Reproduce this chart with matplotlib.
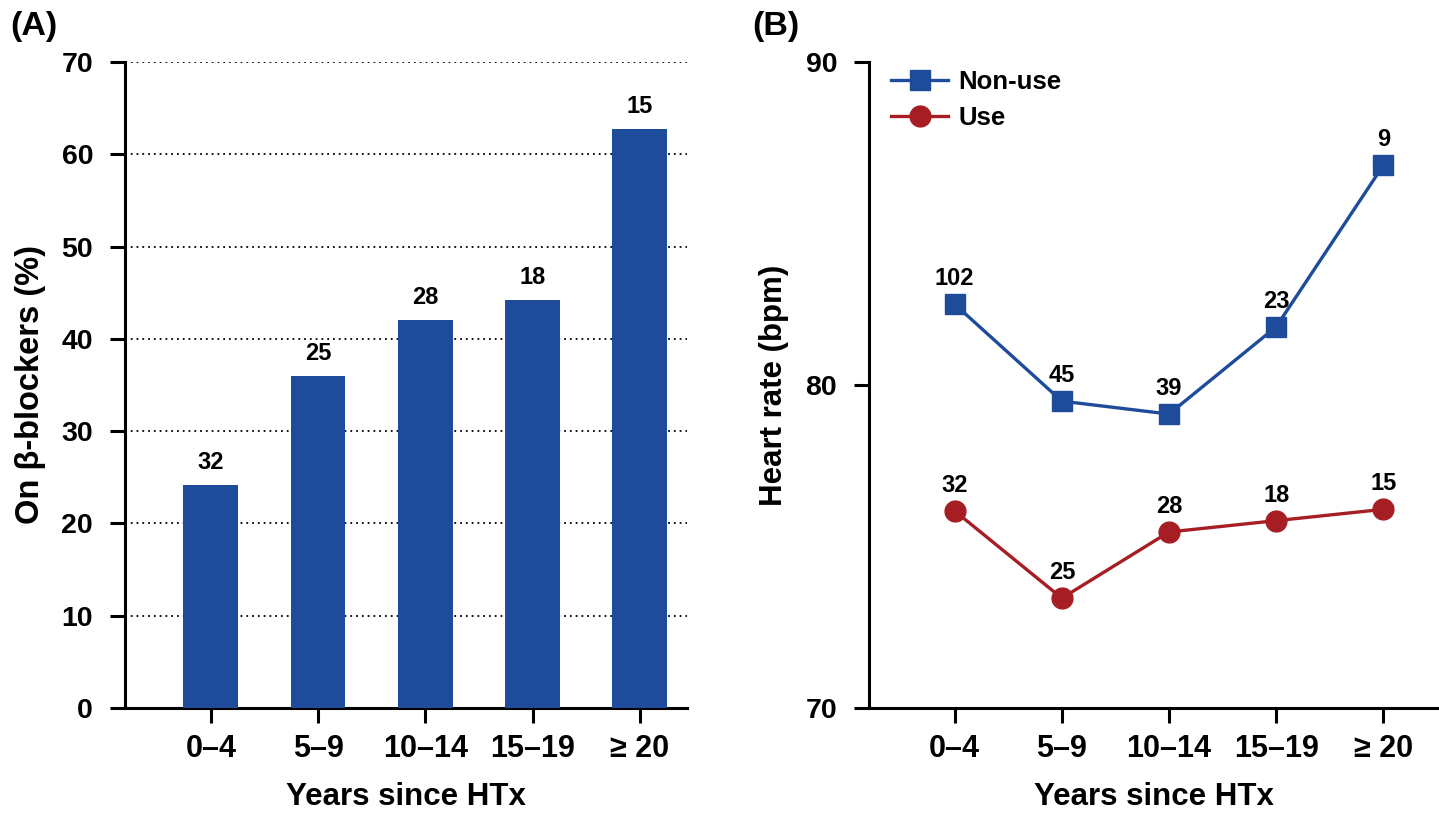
import matplotlib
matplotlib.use("Agg")
import matplotlib.pyplot as plt
import numpy as np

categories = ["0\u20134", "5\u20139", "10\u201314", "15\u201319", "\u2265 20"]
bb_pct = [24.2, 36.0, 42.0, 44.2, 62.7]
bb_n = ["32", "25", "28", "18", "15"]
hr_nonuse = [82.5, 79.5, 79.1, 81.8, 86.8]
hr_nonuse_n = ["102", "45", "39", "23", "9"]
hr_use = [76.1, 73.4, 75.45, 75.8, 76.15]
hr_use_n = ["32", "25", "28", "18", "15"]

BLUE = "#1F4B9B"
RED = "#A61E24"

plt.rcParams['font.family'] = ['Liberation Sans', 'DejaVu Sans']
plt.rcParams['font.weight'] = 'bold'

W, H = 1439, 813
fig = plt.figure(figsize=(W/100, H/100), dpi=100)

def ax_rect(l, r, t, b):
    return [l/W, 1 - b/H, (r-l)/W, (b-t)/H]

def style(ax):
    for s in ["top", "right"]:
        ax.spines[s].set_visible(False)
    for s in ["left", "bottom"]:
        ax.spines[s].set_linewidth(2.2)
    ax.tick_params(axis="both", width=2.2, length=11)
    ax.tick_params(axis="y", labelsize=20.5, pad=12)
    ax.tick_params(axis="x", labelsize=22, pad=8)
    for lab in ax.get_xticklabels() + ax.get_yticklabels():
        lab.set_fontweight("bold")

x = np.arange(len(categories))
ANN = 17
LAB = 22.5

# Panel A
axA = fig.add_axes(ax_rect(125, 687, 62, 708))
axA.bar(x, bb_pct, width=0.51, color=BLUE, zorder=3)
axA.set_xlim(-0.80, 4.44)
axA.set_ylim(0, 70)
axA.set_yticks(np.arange(0, 71, 10))
axA.set_xticks(x)
axA.set_xticklabels(categories)
axA.yaxis.grid(True, linestyle=(0, (1, 2.2)), color="black", linewidth=1.3, zorder=1)
axA.set_axisbelow(True)
style(axA)
for xi, v, n in zip(x, bb_pct, bb_n):
    axA.annotate(n, (xi, v), xytext=(0, 8), textcoords="offset points",
                 ha="center", va="bottom", fontsize=ANN, fontweight="bold")
axA.set_xlabel("Years since HTx", fontsize=LAB, fontweight="bold", labelpad=13)
axA.set_ylabel("On \u03b2-blockers (%)", fontsize=23.5, fontweight="bold", labelpad=11)
fig.text(10/W, 1 - 26/H, "(A)", fontsize=24.5, fontweight="bold", va="center", ha="left")

# Panel B
axB = fig.add_axes(ax_rect(869, 1439, 62, 708))
axB.plot(x, hr_nonuse, color=BLUE, linewidth=2.4, marker="s", markersize=14,
         label="Non-use", zorder=3)
axB.plot(x, hr_use, color=RED, linewidth=2.4, marker="o", markersize=15,
         label="Use", zorder=3)
axB.set_xlim(-0.80, 4.52)
axB.set_ylim(70, 90)
axB.set_yticks([70, 80, 90])
axB.set_xticks(x)
axB.set_xticklabels(categories)
style(axB)
for xi, v, n in zip(x, hr_nonuse, hr_nonuse_n):
    axB.annotate(n, (xi, v), xytext=(0, 10), textcoords="offset points",
                 ha="center", va="bottom", fontsize=ANN, fontweight="bold")
for xi, v, n in zip(x, hr_use, hr_use_n):
    axB.annotate(n, (xi, v), xytext=(0, 10), textcoords="offset points",
                 ha="center", va="bottom", fontsize=ANN, fontweight="bold")
axB.set_xlabel("Years since HTx", fontsize=LAB, fontweight="bold", labelpad=13)
axB.set_ylabel("Heart rate (bpm)", fontsize=LAB, fontweight="bold", labelpad=12)
leg = axB.legend(loc="upper left", bbox_to_anchor=(0.012, 1.012), frameon=False,
                 prop={"size": 18.5, "weight": "bold"}, handlelength=2.2,
                 handletextpad=0.4, labelspacing=0.48, borderaxespad=0.2)
fig.text(752/W, 1 - 26/H, "(B)", fontsize=24.5, fontweight="bold", va="center", ha="left")

fig.savefig("out.png", dpi=100)
